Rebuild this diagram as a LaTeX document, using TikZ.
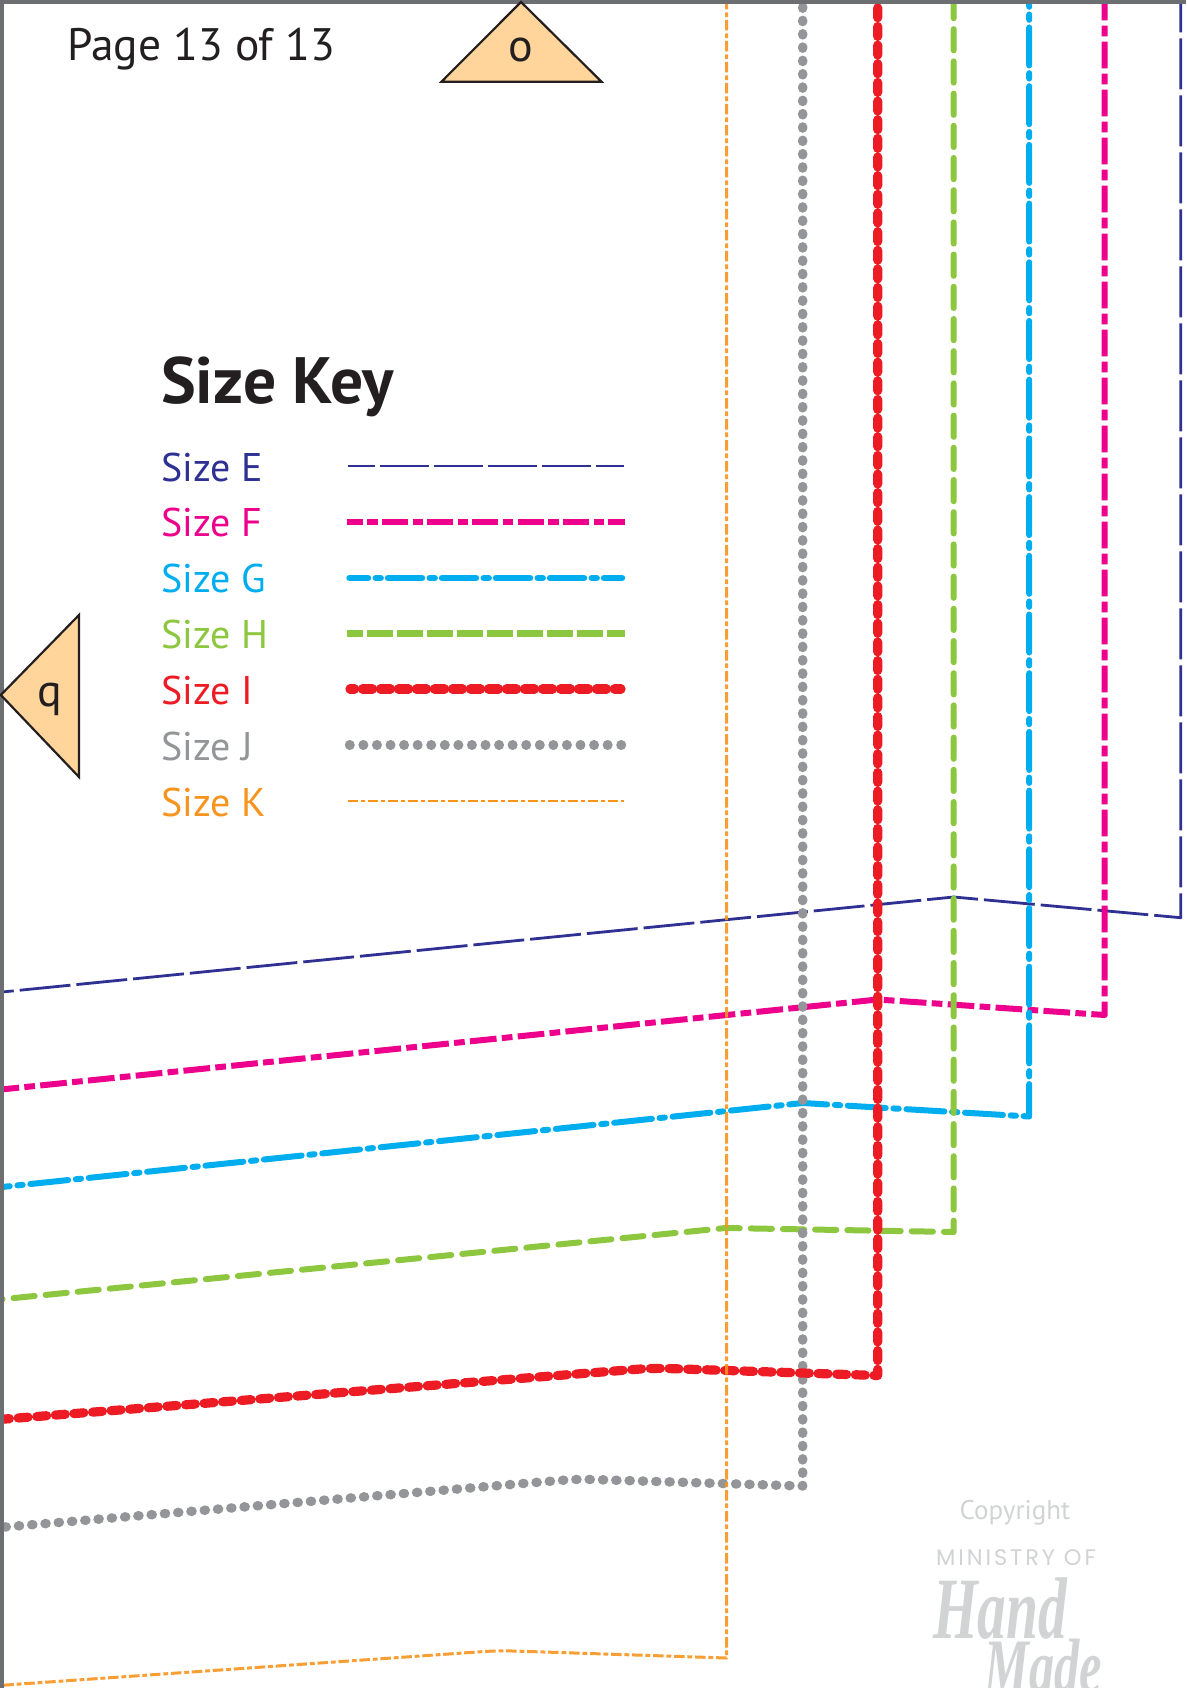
\documentclass[tikz,border=0pt]{standalone}
\usepackage{fontspec}
\usetikzlibrary{calc}
\setmainfont{PT Sans}
\newfontfamily\ministryfont[LetterSpace=13]{Poppins}
\newfontfamily\wmscript{Liberation Serif}
\newcommand{\fsz}[1]{\fontsize{#1}{#1}\selectfont}
\definecolor{cE}{HTML}{2E3192}
\definecolor{cF}{HTML}{EC008C}
\definecolor{cG}{HTML}{00AEEF}
\definecolor{cH}{HTML}{8DC63F}
\definecolor{cI}{HTML}{ED1C24}
\definecolor{cJ}{HTML}{939598}
\definecolor{cK}{HTML}{F7941E}
\definecolor{ink}{HTML}{231F20}
\definecolor{band}{HTML}{6D6E71}
\definecolor{tri}{HTML}{FFD59B}
\definecolor{wm}{HTML}{D1D3D4}
\tikzset{
  x=1pt,y=-1pt,
  patE/.style={draw=cE,line width=2.8pt,line join=round},
  patF/.style={draw=cF,line width=6pt,line join=round},
  patG/.style={draw=cG,line width=6pt,line cap=round,line join=round},
  patH/.style={draw=cH,line width=6pt,line cap=round,line join=round},
  patI/.style={draw=cI,line width=9.2pt,line cap=round,line join=round},
  patJ/.style={draw=cJ,line width=9.4pt,line cap=round,line join=round},
  patK/.style={draw=cK,line width=3pt,line join=round},
  sizelabel/.style={anchor=base west,inner sep=0pt,font=\fsz{40}},
  marker/.style={draw=ink,line width=2.2pt,fill=tri,line join=miter},
  markerletter/.style={anchor=base,inner sep=0pt,text=ink,font=\fsz{46}},
  scriptword/.style={anchor=base,inner sep=0pt,text=wm,font=\wmscript\bfseries\itshape\fsz{70}},
}
\begin{document}
\begin{tikzpicture}
\useasboundingbox (0,0) rectangle (1186,1688);
\fill[white] (0,0) rectangle (1186,1688);

% named path points
\coordinate (Et) at (1180.7,0);  \coordinate (Ec) at (1180.7,917.7); \coordinate (Ep) at (953.7,897);   \coordinate (El) at (0,992.2);
\coordinate (Ft) at (1104.7,0);  \coordinate (Fc) at (1104.7,1015);  \coordinate (Fp) at (877.7,999.5);   \coordinate (Fl) at (0,1089.6);
\coordinate (Gt) at (1029.2,0);\coordinate (Gc) at (1029.2,1116.5);\coordinate (Gp) at (802.7,1103);  \coordinate (Gl) at (0,1187.2);
\coordinate (Ht) at (953.7,0);   \coordinate (Hc) at (953.7,1232); \coordinate (Hp) at (725.7,1228);  \coordinate (Hl) at (0,1299.4);
\coordinate (It) at (877.7,0);   \coordinate (Ic) at (877.7,1375.5);   \coordinate (Ip) at (652.7,1368);  \coordinate (Il) at (0,1419.4);
\coordinate (Jt) at (802.7,0);   \coordinate (Jc) at (802.7,1486);   \coordinate (Jp) at (576.7,1479);  \coordinate (Jl) at (0,1527.4);
\coordinate (Kt) at (726.5,0);   \coordinate (Kc) at (726.5,1658);   \coordinate (Kp) at (498.5,1650.5);  \coordinate (Kl) at (0,1685.4);

% pattern lines
\draw[patE,dash pattern=on 51pt off 6pt,dash phase=18.7pt] (Et) -- (Ec) -- (Ep) -- (El);
\draw[patF,dash pattern=on 26.7pt off 5.3pt on 10.7pt off 5.3pt,dash phase=6.3pt] (Ft) -- (Fc) -- (Fp) -- (Fl);
\draw[patG,dash pattern=on 38pt off 7.7pt on 5.3pt off 7.7pt,dash phase=31.2pt] (Gt) -- (Gc) -- (Gp) -- (Gl);
\draw[patH,dash pattern=on 21.2pt off 11pt,dash phase=3pt] (Ht) -- (Hc) -- (Hp) -- (Hl);
\draw[patJ,dash pattern=on 1.2pt off 12.118pt,dash phase=6.236pt] (Jt) -- (Jc) -- ($(Jp)!30pt!(Jc)$) .. controls (Jp) .. ($(Jp)!30pt!(Jl)$) -- (Jl);
\draw[patI,dash pattern=on 9.9pt off 8.75pt,dash phase=10.8pt] (It) -- (Ic) -- ($(Ip)!30pt!(Ic)$) .. controls (Ip) .. ($(Ip)!30pt!(Il)$) -- (Il);
\draw[patK,opacity=.9,dash pattern=on 10.5pt off 2.8pt on 4.8pt off 2.9pt,dash phase=1pt] (Kt) -- (Kc) -- ($(Kp)!30pt!(Kc)$) .. controls (Kp) .. ($(Kp)!30pt!(Kl)$) -- (Kl);

% page edge
\fill[band] (0,0) rectangle (1186,3.7);
\fill[band] (0,0) rectangle (3.7,1688);

% page label and markers
\node[anchor=base west,inner sep=0pt,text=ink,font=\fsz{45.5}] (page) at (67,60.7) {Page 13 of 13};
\draw[marker] (521,2) -- (601.5,81.7) -- (441.5,81.7) -- cycle;
\node[markerletter] (o) at (521,61.7) {o};
\draw[marker] (0.8,695) -- (79,615) -- (79,777) -- cycle;
\node[markerletter] (q) at (49.5,706.7) {q};

% size key
\node[anchor=base west,inner sep=0pt,text=ink,font=\bfseries\fsz{65.5}] (title) at (161,403) {Size Key};
\node[sizelabel,text=cE] (lE) at (161,481) {Size E};
\node[sizelabel,text=cF] (lF) at (161,536.3) {Size F};
\node[sizelabel,text=cG] (lG) at (161,592.3) {Size G};
\node[sizelabel,text=cH] (lH) at (161,648.3) {Size H};
\node[sizelabel,text=cI] (lI) at (161,704.3) {Size I};
\node[sizelabel,text=cJ] (lJ) at (161,760) {Size J};
\node[sizelabel,text=cK] (lK) at (161,816) {Size K};

\coordinate (kE1) at (347.5,466); \coordinate (kE2) at (623.5,466);
\coordinate (kF1) at (346.5,522); \coordinate (kF2) at (624.5,522);
\coordinate (kG1) at (349.5,578); \coordinate (kG2) at (622,578);
\coordinate (kH1) at (346.5,633.5); \coordinate (kH2) at (624.5,633.5);
\coordinate (kI1) at (350,689); \coordinate (kI2) at (621,689);
\coordinate (kJ1) at (349.5,745); \coordinate (kJ2) at (621.5,745);
\coordinate (kK1) at (347.5,801); \coordinate (kK2) at (623.5,801);
\draw[patE,dash pattern=on 49pt off 5pt,dash phase=22pt] (kE1) -- (kE2);
\draw[patF,line width=6.4pt,dash pattern=on 26pt off 4.7pt on 10.3pt off 4.3pt,dash phase=10pt] (kF1) -- (kF2);
\draw[patG,line width=6.4pt,dash pattern=on 34pt off 7.7pt on 5pt off 7.3pt,dash phase=15.5pt] (kG1) -- (kG2);
\draw[patH,line cap=butt,line width=6.4pt,dash pattern=on 25.3pt off 4.7pt,dash phase=9.3pt] (kH1) -- (kH2);
\draw[patI,dash pattern=on 10pt off 8pt,dash phase=5.5pt] (kI1) -- (kI2);
\draw[patJ,dash pattern=on 0.6pt off 12.97pt] (kJ1) -- (kJ2);
\draw[patK,line width=2.8pt,dash pattern=on 10pt off 3pt on 4pt off 3pt] (kK1) -- (kK2);

% watermark
\node[anchor=base,inner sep=0pt,text=wm,font=\fsz{27}] (copy) at (1015,1519) {Copyright};
\node[anchor=base,inner sep=0pt,text=wm,font=\ministryfont\fsz{22.5}] (ministry) at (1016,1565) {MINISTRY OF};
\node[scriptword,xscale=.82,yscale=1.25] (hand) at (1000,1638) {Hand};
\node[scriptword,xscale=.72,yscale=1.1] (made) at (1043,1692) {Made};
\end{tikzpicture}
\end{document}
